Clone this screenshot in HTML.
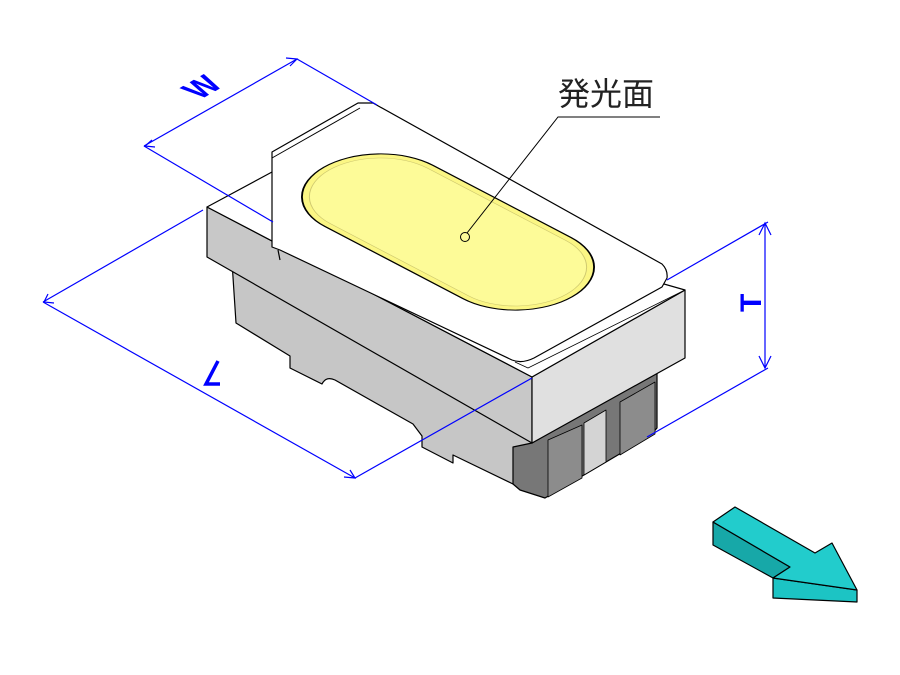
<!DOCTYPE html>
<html><head><meta charset="utf-8"><style>
html,body{margin:0;padding:0;background:#fff;}
svg{display:block}
</style></head><body>
<svg width="900" height="675" viewBox="0 0 900 675" xmlns="http://www.w3.org/2000/svg">
<g stroke="#000" stroke-width="1.2" stroke-linejoin="round">
 <path d="M232,262 L236,323 L290,356 L290,368 L322,384 Q326,376 335,380 L413,424 L422,436 L422,447 L453,463 L453,455 L513,484 L532,443 L532,377 L232,262 Z" fill="#c6c6c6"/>
 <path d="M513,447 L532,443 L657,372 L657,428 L650,436 L545,498 L520,490 L513,484 Z" fill="#777"/>
 <path d="M548,440 L548,497 L582,478 L582,425 Z" fill="#8c8c8c" stroke-width="0.8"/>
 <path d="M584,423 L584,475 L606,462 L606,410 Z" fill="#d4d4d4" stroke-width="0.8"/>
 <path d="M620,402 L620,455 L655,434 L655,382 Z" fill="#8c8c8c" stroke-width="0.8"/>
 <path d="M207,207 L532,377 L532,443 L207,257 Z" fill="#c8c8c8"/>
 <path d="M532,377 L685,290 L685,358 L532,443 Z" fill="#e0e0e0"/>
 <path d="M207,207 L272,172 L685,290 L532,377 Z" fill="#fff"/>
 <path d="M272,152 L358,103 L373,103 L662,264 Q668,270 667,278 L662,287 L534,358 Q522,364 512,360 L280,250 L272,247 Z" fill="#fff"/>
 <path d="M272,158 L360,108" fill="none" stroke-width="1"/>
 <path d="M278,250 L280,260" fill="none"/>
 <path d="M515,362 L528,368 L685,290" fill="none" stroke-width="0.8"/>
 <g transform="matrix(0.886,0.463,0.869,-0.494,448,232)">
  <rect x="-140" y="-62" width="280" height="124" rx="62" ry="62" fill="#fbf684" stroke="#000" stroke-width="1.5"/>
  <rect x="-134" y="-56" width="268" height="112" rx="56" ry="56" fill="#fdfb98" stroke="#cfc970" stroke-width="0.8"/>
 </g>
</g>
<circle cx="465" cy="237" r="4.5" fill="none" stroke="#000" stroke-width="1"/>
<path d="M467,233 L558,117 L660,117" fill="none" stroke="#000" stroke-width="1"/>
<text x="558" y="105" font-family="'Liberation Sans','Noto Sans CJK JP',sans-serif" font-size="32" fill="#222">発光面</text>
<g stroke="#0000ff" stroke-width="1.2" fill="none">
 <path d="M144,146 L297,59"/><path d="M144,146 L273,222"/><path d="M297,59 L377,105"/>
 <path d="M155,147 L145,146 L152,140 M286,58 L297,59 L290,66"/>
 <path d="M43,302 L355,478"/><path d="M43,302 L203,210"/><path d="M355,478 L532,378"/>
 <path d="M48,294 L44,302 L54,303 M344,477 L355,478 L350,470"/>
 <path d="M765,223 L765,368"/><path d="M667,280 L768,222"/><path d="M647,437 L768,368"/>
 <path d="M759,235 L765,223 L771,235 M759,356 L765,368 L771,356"/>
</g>
<g fill="#0000ff" font-family="'Liberation Sans',sans-serif" font-size="30" font-weight="bold">
 <text transform="translate(200,100) rotate(-30) skewX(30)">W</text>
 <text transform="translate(761,312) rotate(-90)">T</text>
</g>
<path d="M218,361 L206,384 L220,384" fill="none" stroke="#0000ff" stroke-width="3.5"/>
<g stroke="#000" stroke-width="1.2" stroke-linejoin="round">
 <path d="M713,522 L790,567 L773,578 L713,545 Z" fill="#17a8a8"/>
 <path d="M773,578 L857,590 L857,602 L773,598 Z" fill="#1cc4c4"/>
 <path d="M713,522 L735,507 L815,553 L832,543 L857,590 L773,578 L790,567 Z" fill="#22cccc"/>
</g>
</svg>
</body></html>
